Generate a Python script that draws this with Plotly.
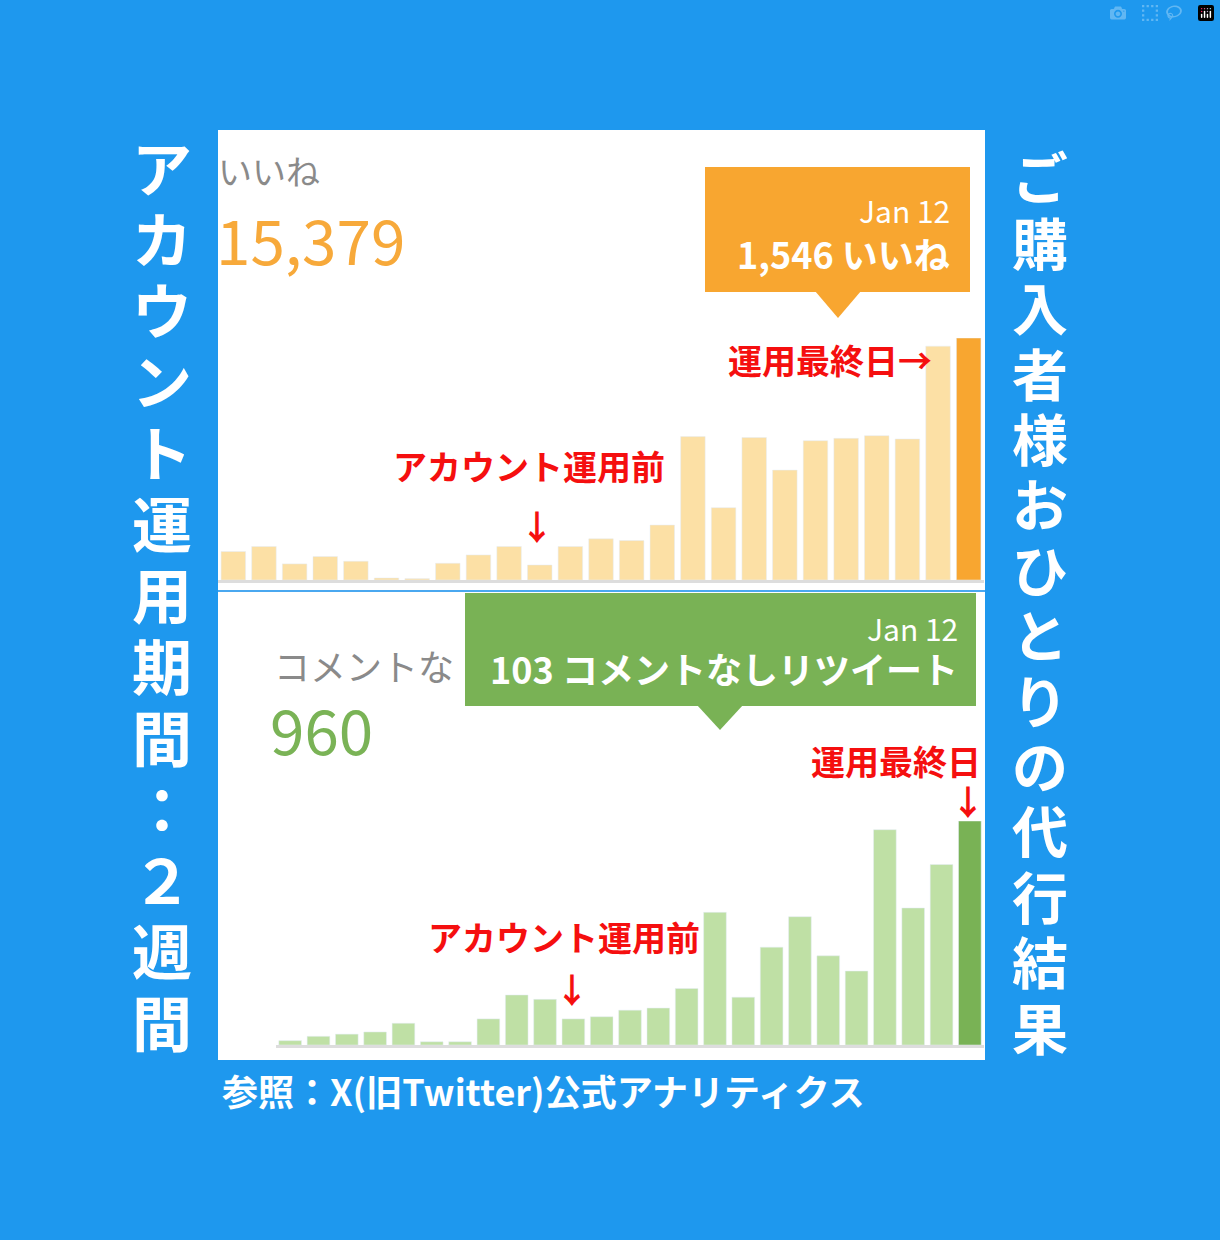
import plotly.graph_objects as go

W, H = 1220, 1240
days = list(range(1, 26))
likes = [182, 214, 103, 150, 120, 13, 9, 107, 160, 214, 96, 214, 263, 252, 351,
         916, 462, 910, 702, 890, 905, 922, 901, 1494, 1546]
rts = [2, 4, 5, 6, 10, 1.5, 1.5, 12, 23, 21, 12, 13, 16, 17, 26,
       61, 22, 45, 59, 41, 34, 99, 63, 83, 103]
left_text = "アカウント運用期間：２週間"
right_text = "ご購入者様おひとりの代行結果"

FONT = "Noto Sans CJK JP"
BLUE = "#1E98EE"
RED = "#F50F0F"


def px(x):
    return x / W


def py(y):
    return 1 - y / H


like_col = ["#FCE0A5"] * (len(likes) - 1) + ["#F8A630"]
rt_col = ["#BFE0A5"] * (len(rts) - 1) + ["#79B255"]

fig = go.Figure()
fig.add_trace(go.Bar(x=days, y=likes, marker_color=like_col, xaxis="x", yaxis="y"))
fig.add_trace(go.Bar(x=days, y=rts, marker_color=rt_col, xaxis="x2", yaxis="y2"))

ax = dict(showgrid=False, zeroline=False, showticklabels=False, fixedrange=True)
fig.update_layout(
    width=W, height=H, margin=dict(l=0, r=0, t=0, b=0),
    paper_bgcolor=BLUE, plot_bgcolor="rgba(0,0,0,0)", showlegend=False, bargap=0.2,
    xaxis=dict(domain=[px(218), px(984)], range=[0.5, 25.5], showline=True,
               linecolor="#DDDDDD", linewidth=3, **ax),
    yaxis=dict(domain=[py(580), py(338)], range=[0, 1546], anchor="x", **ax),
    xaxis2=dict(domain=[px(276), px(984)], range=[0.5, 25.5], anchor="y2", showline=True,
                linecolor="#DDDDDD", linewidth=3, **ax),
    yaxis2=dict(domain=[py(1045), py(821)], range=[0, 103], anchor="x2", **ax),
)

shapes = [
    dict(type="rect", xref="paper", yref="paper", x0=px(218), x1=px(985), y0=py(1060),
         y1=py(130), fillcolor="white", line_width=0, layer="below"),
    dict(type="line", xref="paper", yref="paper", x0=px(218), x1=px(985), y0=py(591),
         y1=py(591), line=dict(color="#4AA8F0", width=2)),
    # orange tooltip
    dict(type="rect", xref="paper", yref="paper", x0=px(705), x1=px(970), y0=py(292),
         y1=py(167), fillcolor="#F8A630", line_width=0),
    dict(type="path", xref="paper", yref="paper", fillcolor="#F8A630", line_width=0,
         path=f"M {px(815)},{py(291)} L {px(861)},{py(291)} L {px(838)},{py(318)} Z"),
    # green tooltip
    dict(type="rect", xref="paper", yref="paper", x0=px(465), x1=px(976), y0=py(706),
         y1=py(593), fillcolor="#79B255", line_width=0),
    dict(type="path", xref="paper", yref="paper", fillcolor="#79B255", line_width=0,
         path=f"M {px(697)},{py(705)} L {px(743)},{py(705)} L {px(720)},{py(730)} Z"),
]
fig.update_layout(shapes=shapes)


def txt(x, y, s, size, color, bold=False, xanchor="left"):
    if bold:
        s = f"<b>{s}</b>"
    fig.add_annotation(xref="paper", yref="paper", x=px(x), y=py(y), text=s,
                       showarrow=False, xanchor=xanchor, yanchor="middle",
                       font=dict(family=FONT, size=size, color=color))


txt(216, 170, "いいね", 34, "#8A8A8A")
txt(214, 238, "15,379", 62, "#F7A93A")
txt(952, 210, "Jan 12", 30, "white", xanchor="right")
txt(952, 253, "1,546 いいね", 36, "white", True, xanchor="right")
txt(726, 360, "運用最終日→", 34, RED, True)
txt(391, 466, "アカウント運用前", 34, RED, True)
txt(537, 525, "↓", 34, RED, True, xanchor="center")

txt(272, 665, "コメントな", 36, "#8A8A8A")
txt(268, 728, "960", 62, "#7AB356")
txt(960, 628, "Jan 12", 30, "white", xanchor="right")
txt(960, 668, "103 コメントなしリツイート", 36, "white", True, xanchor="right")
txt(983, 760, "運用最終日", 34, RED, True, xanchor="right")
txt(968, 800, "↓", 34, RED, True, xanchor="center")
txt(426, 936, "アカウント運用前", 34, RED, True)
txt(572, 988, "↓", 34, RED, True, xanchor="center")

txt(220, 1090, "参照：X(旧Twitter)公式アナリティクス", 36, "white", True)

# vertical side titles, one character per annotation
step_l = (1020 - 165) / (len(left_text) - 1)
for i, ch in enumerate(left_text):
    txt(162, 165 + i * step_l, ch, 60, "white", True, xanchor="center")
step_r = (1025 - 175) / (len(right_text) - 1)
for i, ch in enumerate(right_text):
    txt(1040, 175 + i * step_r, ch, 56, "white", True, xanchor="center")

fig.write_html("out.html",
               post_script="document.body.style.margin='0';document.body.style.background='#1E98EE';")
